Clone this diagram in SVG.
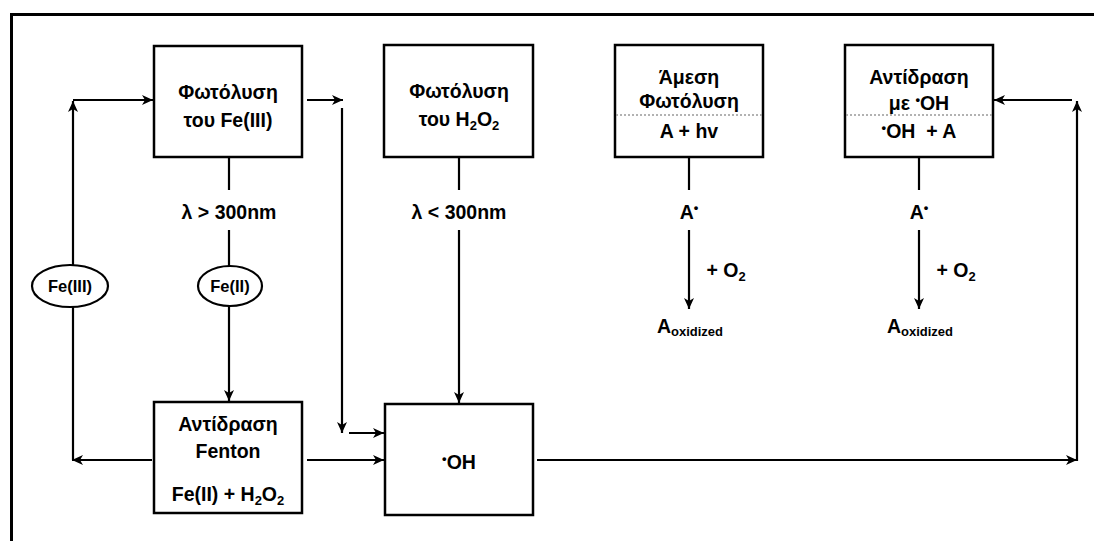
<svg xmlns="http://www.w3.org/2000/svg" width="1094" height="541" viewBox="0 0 1094 541">
<style>
text{font-family:"Liberation Sans",Arial,sans-serif;font-weight:bold;fill:#000;text-anchor:middle}
.t{font-size:19.5px}
.s{font-size:16.5px}
.box{fill:#fff;stroke:#000;stroke-width:2.5}
.ell{fill:#fff;stroke:#000;stroke-width:2.2}
.ln{fill:none;stroke:#000;stroke-width:2.2}
.arr{fill:none;stroke:#000;stroke-width:2.2;marker-end:url(#ah)}
.dot{stroke:#999;stroke-width:1.5;stroke-dasharray:2 2}
</style>
<defs>
<marker id="ah" markerUnits="userSpaceOnUse" markerWidth="12" markerHeight="10" refX="11" refY="5" orient="auto">
<path d="M0,0 L11,5 L0,10 L3,5 z" fill="#000"/>
</marker>
</defs>
<rect width="1094" height="541" fill="#fff"/>
<path d="M11.5,541 V14.5 H1094" fill="none" stroke="#000" stroke-width="3"/>

<g id="connectors">
<path class="arr" d="M73,265 V101"/>
<path class="arr" d="M73,100 H153"/>
<path class="arr" d="M307,100 H343"/>
<path class="arr" d="M342,108 V433"/>
<path class="arr" d="M349,433 H384"/>
<path class="ln" d="M229,157 V190 M229,230 V266"/>
<path class="arr" d="M229,306 V401"/>
<path class="ln" d="M73,307 V460"/>
<path class="arr" d="M152,460 H72"/>
<path class="arr" d="M307,460 H384"/>
<path class="ln" d="M459,157 V190"/>
<path class="arr" d="M459,230 V403"/>
<path class="arr" d="M537,460 H1077"/>
<path class="arr" d="M1077,461 V101"/>
<path class="arr" d="M1072,100 H994"/>
<path class="ln" d="M689,157 V190"/>
<path class="arr" d="M689,230 V309"/>
<path class="ln" d="M919,157 V190"/>
<path class="arr" d="M919,230 V309"/>
</g>

<g id="fe3-photolysis">
<rect class="box" x="154" y="46" width="148" height="111"/>
<text class="t" x="228" y="99">Φωτόλυση</text>
<text class="t" x="228" y="127">του Fe(III)</text>
</g>

<g id="h2o2-photolysis">
<rect class="box" x="384" y="45" width="149" height="112"/>
<text class="t" x="459" y="98">Φωτόλυση</text>
<text class="t" x="459" y="126">του H<tspan font-size="13" dy="4">2</tspan><tspan dy="-4">O</tspan><tspan font-size="13" dy="4">2</tspan></text>
</g>

<g id="direct-photolysis">
<rect class="box" x="615" y="45" width="148" height="112"/>
<line class="dot" x1="616" y1="115" x2="762" y2="115"/>
<text class="t" x="689" y="84">Άμεση</text>
<text class="t" x="689" y="108">Φωτόλυση</text>
<text class="t" x="689" y="138">A + hv</text>
</g>

<g id="oh-reaction">
<rect class="box" x="845" y="45" width="148" height="112"/>
<line class="dot" x1="846" y1="115" x2="992" y2="115"/>
<text class="t" x="919" y="84">Αντίδραση</text>
<text class="t" x="919" y="110">με <tspan font-size="13" dy="-6">•</tspan><tspan dy="6">OH</tspan></text>
<text class="t" x="919" y="138" xml:space="preserve"><tspan font-size="13" dy="-6">•</tspan><tspan dy="6">OH  + A</tspan></text>
</g>

<g id="label-gt300">
<text class="t" x="229" y="219">λ &gt; 300nm</text>
</g>
<g id="label-lt300">
<text class="t" x="459" y="219">λ &lt; 300nm</text>
</g>

<g id="fe3">
<ellipse class="ell" cx="70" cy="286" rx="38" ry="21"/>
<text class="s" x="70" y="292">Fe(III)</text>
</g>
<g id="fe2">
<ellipse class="ell" cx="230" cy="286" rx="32" ry="20"/>
<text class="s" x="230" y="292">Fe(II)</text>
</g>

<g id="fenton">
<rect class="box" x="154" y="402" width="148" height="111"/>
<text class="t" x="228" y="431">Αντίδραση</text>
<text class="t" x="228" y="458">Fenton</text>
<text class="t" x="228" y="501">Fe(II) + H<tspan font-size="13" dy="4">2</tspan><tspan dy="-4">O</tspan><tspan font-size="13" dy="4">2</tspan></text>
</g>

<g id="oh">
<rect class="box" x="385" y="404" width="148" height="111"/>
<text class="t" x="459" y="469"><tspan font-size="13" dy="-6">•</tspan><tspan dy="6">OH</tspan></text>
</g>

<g id="a-radical-1">
<text class="t" x="689" y="219">A<tspan font-size="13" dy="-7">•</tspan></text>
</g>
<g id="o2-1">
<text class="t" x="726" y="277">+ O<tspan font-size="13" dy="4">2</tspan></text>
</g>
<g id="a-oxidized-1">
<text class="t" x="690" y="333">A<tspan font-size="13" dy="3">oxidized</tspan></text>
</g>

<g id="a-radical-2">
<text class="t" x="919" y="219">A<tspan font-size="13" dy="-7">•</tspan></text>
</g>
<g id="o2-2">
<text class="t" x="956" y="277">+ O<tspan font-size="13" dy="4">2</tspan></text>
</g>
<g id="a-oxidized-2">
<text class="t" x="920" y="333">A<tspan font-size="13" dy="3">oxidized</tspan></text>
</g>
</svg>
